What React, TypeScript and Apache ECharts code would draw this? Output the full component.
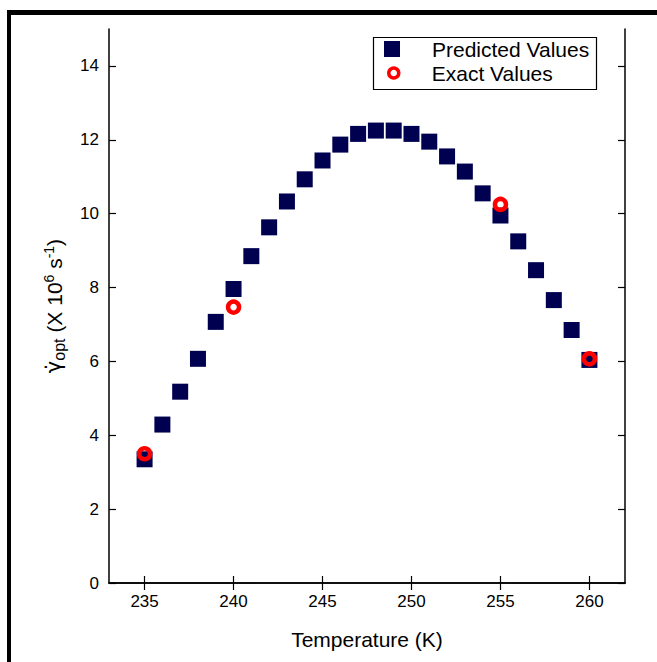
import React, { useEffect, useRef } from "react";
import * as echarts from "echarts";

const temperatures = [235, 236, 237, 238, 239, 240, 241, 242, 243, 244, 245, 246, 247, 248, 249, 250, 251, 252, 253, 254, 255, 256, 257, 258, 259, 260];
const predictedValues = [3.35, 4.29, 5.18, 6.07, 7.07, 7.96, 8.85, 9.63, 10.33, 10.93, 11.44, 11.87, 12.16, 12.25, 12.25, 12.16, 11.95, 11.55, 11.14, 10.55, 9.95, 9.25, 8.47, 7.66, 6.85, 6.04];
const exactTemperatures = [235, 240, 255, 260];
const exactValues = [3.5, 7.47, 10.25, 6.07];
const xTicks = [235, 240, 245, 250, 255, 260];
const yTicks = [0, 2, 4, 6, 8, 10, 12, 14];

const FONT = "Liberation Sans, Arial, Helvetica, sans-serif";
const NAVY = "#000050";
const RED = "#ff0000";

export default function App() {
  const ref = useRef<HTMLDivElement>(null);
  useEffect(() => {
    if (!ref.current) return;
    const chart = echarts.init(ref.current, undefined, { renderer: "svg" });
    const axisLine = { show: true, lineStyle: { color: "#000", width: 1.5 } };
    const tickStyle = { lineStyle: { color: "#000", width: 1.2 } };
    const legendText = { fontSize: 21, color: "#000", fontFamily: FONT, lineHeight: 22 };
    chart.setOption({
      animation: false,
      backgroundColor: "#fff",
      textStyle: { fontFamily: FONT },
      grid: { left: 109, right: 32, top: 29, bottom: 79, containLabel: false },
      legend: [
        {
          orient: "vertical",
          left: 384,
          top: 38,
          itemWidth: 16,
          itemHeight: 16,
          padding: 0,
          textStyle: { ...legendText, padding: [0, 0, 0, 27] },
          data: [{ name: "Predicted Values", icon: "rect", itemStyle: { color: NAVY, opacity: 1 } }],
          z: 20,
        },
        {
          orient: "vertical",
          left: 387,
          top: 62,
          itemWidth: 10,
          itemHeight: 10,
          padding: 0,
          textStyle: { ...legendText, padding: [0, 0, 0, 28] },
          data: [
            {
              name: "Exact Values",
              icon: "circle",
              itemStyle: { color: "rgba(0,0,0,0)", borderColor: RED, borderWidth: 3.5, opacity: 1 },
            },
          ],
          z: 20,
        },
      ],
      graphic: [
        { type: "rect", shape: { x: 7, y: 10, width: 650, height: 5 }, style: { fill: "#000" }, z: 100 },
        { type: "rect", shape: { x: 7, y: 10, width: 4, height: 652 }, style: { fill: "#000" }, z: 100 },
        {
          type: "rect",
          shape: { x: 373.5, y: 37.5, width: 223, height: 52 },
          style: { fill: "#fff", stroke: "#000", lineWidth: 1.2 },
          z: 10,
        },
      ],
      xAxis: [
        {
          type: "value",
          min: 233,
          max: 262,
          position: "bottom",
          name: "Temperature (K)",
          nameLocation: "middle",
          nameGap: 46,
          nameTextStyle: { fontSize: 21, color: "#000", fontFamily: FONT },
          axisLine,
          axisTick: { show: true, inside: true, length: 7, customValues: xTicks, ...tickStyle },
          axisLabel: { show: true, customValues: xTicks, fontSize: 17, color: "#000", margin: 10, fontFamily: FONT },
          splitLine: { show: false },
        },
        {
          type: "value",
          min: 233,
          max: 262,
          position: "top",
          axisLine,
          axisTick: { show: true, inside: true, length: 7, customValues: xTicks, ...tickStyle },
          axisLabel: { show: false },
          splitLine: { show: false },
        },
      ],
      yAxis: [
        {
          type: "value",
          min: 0,
          max: 15,
          position: "left",
          name: "{g|γ̇}{sub|opt}{a| (X 10}{sup|6}{a| s}{sup|-1}{a|)}",
          nameLocation: "middle",
          nameGap: 37,
          nameRotate: 90,
          nameTextStyle: {
            fontSize: 21,
            color: "#000",
            fontFamily: FONT,
            rich: {
              g: { fontSize: 21, color: "#000", fontFamily: "DejaVu Sans", lineHeight: 30, verticalAlign: "middle" },
              a: { fontSize: 21, color: "#000", fontFamily: FONT, lineHeight: 30, verticalAlign: "middle" },
              sub: { fontSize: 16, color: "#000", fontFamily: FONT, lineHeight: 30, verticalAlign: "bottom", padding: [0, 0, 2, 0] },
              sup: { fontSize: 14, color: "#000", fontFamily: FONT, lineHeight: 30, verticalAlign: "top", padding: [3, 0, 0, 0] },
            },
          },
          axisLine,
          axisTick: { show: true, inside: true, length: 7, customValues: yTicks, ...tickStyle },
          axisLabel: { show: true, customValues: yTicks, fontSize: 17, color: "#000", margin: 10, fontFamily: FONT },
          splitLine: { show: false },
        },
        {
          type: "value",
          min: 0,
          max: 15,
          position: "right",
          axisLine,
          axisTick: { show: true, inside: true, length: 7, customValues: yTicks, ...tickStyle },
          axisLabel: { show: false },
          splitLine: { show: false },
        },
      ],
      series: [
        {
          name: "Predicted Values",
          type: "scatter",
          symbol: "rect",
          symbolSize: 16,
          itemStyle: { color: NAVY, opacity: 1 },
          data: temperatures.map((t, i) => [t, predictedValues[i]]),
          z: 2,
        },
        {
          name: "Exact Values",
          type: "scatter",
          symbol: "circle",
          symbolSize: 11,
          itemStyle: { color: "rgba(0,0,0,0)", borderColor: RED, borderWidth: 4.5, opacity: 1 },
          data: exactTemperatures.map((t, i) => [t, exactValues[i]]),
          z: 3,
        },
      ],
    });
    return () => chart.dispose();
  }, []);
  return (
    <div
      ref={ref}
      style={{ position: "fixed", left: 0, top: 0, width: 657, height: 662, background: "#fff" }}
    />
  );
}
